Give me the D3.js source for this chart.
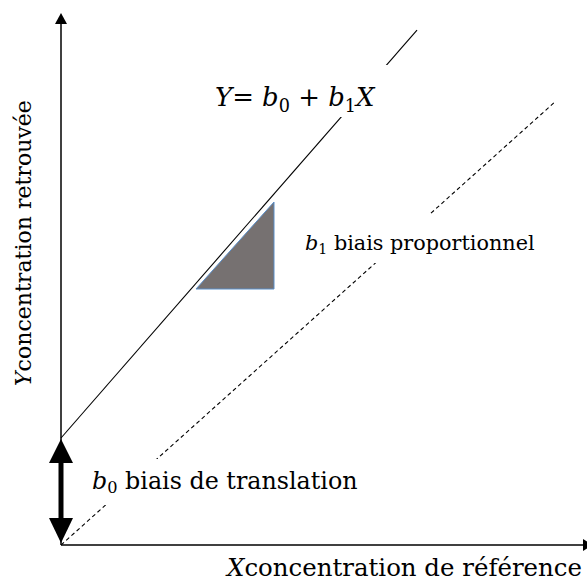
<!DOCTYPE html>
<html>
<head>
<meta charset="utf-8">
<script src="https://cdn.jsdelivr.net/npm/d3@7"></script>
<style>
  html, body { margin: 0; padding: 0; background: #fff; }
  svg { display: block; }
</style>
</head>
<body>
<svg id="chart" width="587" height="584"></svg>
<script>
// ---- data (in abstract concentration units) ----
const axisExtent = [0, 106.4];          // both axes
const regression = [21.4, 1.146];       // [b0 intercept, b1 slope] of Y = b0 + b1 X
const regressionEndX = 71.2;
const identitySlope = [0.897];          // reference (no-bias) line through origin
const identityEndX = 98.8;
const slopeTriangle = [[27, 51.2], [42.6, 68.6], [42.6, 51.2]];

const svg = d3.select("#chart");
const x = d3.scaleLinear().domain([0, 100]).range([61, 561]);
const y = d3.scaleLinear().domain([0, 100]).range([545, 45]);
const serif = "'DejaVu Serif', 'Liberation Serif', serif";

// identity (dashed) line
const line = d3.line().x(d => x(d[0])).y(d => y(d[1]));
svg.append("path")
  .attr("d", line([[0, 0], [identityEndX, identitySlope[0] * identityEndX]]))
  .attr("fill", "none").attr("stroke", "#000").attr("stroke-width", 1.1)
  .attr("stroke-dasharray", "4,3");

// regression (solid) line
svg.append("path")
  .attr("d", line([[0, regression[0]], [regressionEndX, regression[0] + regression[1] * regressionEndX]]))
  .attr("fill", "none").attr("stroke", "#000").attr("stroke-width", 1.1);

// slope triangle
svg.append("path")
  .attr("d", line(slopeTriangle) + "Z")
  .attr("fill", "#767171").attr("stroke", "#5b8fc9").attr("stroke-width", 1);

// axes
const x0 = x(0), y0 = y(0);
svg.append("line").attr("x1", x0).attr("y1", y0).attr("x2", x(axisExtent[1]) - 9).attr("y2", y0)
  .attr("stroke", "#000").attr("stroke-width", 1.5);
svg.append("line").attr("x1", x0).attr("y1", y0).attr("x2", x0).attr("y2", y(axisExtent[1]) + 9)
  .attr("stroke", "#000").attr("stroke-width", 1.5);
const xt = x(axisExtent[1]), yt = y(axisExtent[1]);
svg.append("path").attr("d", `M${xt},${y0} L${xt - 10},${y0 - 6} L${xt - 10},${y0 + 6} Z`).attr("fill", "#000");
svg.append("path").attr("d", `M${x0},${yt} L${x0 - 6},${yt + 11} L${x0 + 6},${yt + 11} Z`).attr("fill", "#000");

// double arrow for b0
const ya = y(regression[0]) + 1, yb = y(0) - 2;
svg.append("line").attr("x1", x0).attr("y1", ya + 20).attr("x2", x0).attr("y2", yb - 20)
  .attr("stroke", "#000").attr("stroke-width", 5);
svg.append("path").attr("d", `M${x0},${ya} L${x0 - 12},${ya + 24} L${x0 + 12},${ya + 24} Z`).attr("fill", "#000");
svg.append("path").attr("d", `M${x0},${yb} L${x0 - 12},${yb - 25} L${x0 + 12},${yb - 25} Z`).attr("fill", "#000");

// label background boxes (hide lines behind text)
function box(x1, y1, x2, y2) {
  svg.append("rect").attr("x", x1).attr("y", y1).attr("width", x2 - x1).attr("height", y2 - y1).attr("fill", "#fff");
}
box(205, 65, 392, 117);
box(300, 214, 548, 263);
box(86, 459, 368, 505);

// fit a text element horizontally to a target width by scaling its font size
function fit(t, target) {
  const w = t.node().getComputedTextLength();
  const fs = parseFloat(t.attr("font-size"));
  t.attr("font-size", fs * target / w);
  t.selectAll("tspan[data-sub]").attr("font-size", fs * target / w * 0.68);
}

// formula
const f = svg.append("text").attr("x", 215).attr("y", 106)
  .attr("font-family", serif).attr("font-size", 26).attr("fill", "#000");
f.append("tspan").attr("font-style", "italic").text("Y");
f.append("tspan").text("=  ");
f.append("tspan").attr("font-style", "italic").text("b");
f.append("tspan").attr("data-sub", 1).attr("font-size", 18).attr("dy", 6).text("0");
f.append("tspan").attr("dy", -6).text(" + ");
f.append("tspan").attr("font-style", "italic").text("b");
f.append("tspan").attr("data-sub", 1).attr("font-size", 18).attr("dy", 6).text("1");
f.append("tspan").attr("font-style", "italic").attr("dy", -6).text("X");
fit(f, 160);

function subLabel(xp, yp, sub, rest, target) {
  const t = svg.append("text").attr("x", xp).attr("y", yp)
    .attr("font-family", serif).attr("font-size", 20).attr("fill", "#000");
  t.append("tspan").attr("font-style", "italic").text("b");
  t.append("tspan").attr("data-sub", 1).attr("font-size", 14).attr("dy", 4).text(sub);
  t.append("tspan").attr("dy", -4).text(" " + rest);
  fit(t, target);
  return t;
}
subLabel(305, 250, "1", "biais proportionnel", 230);
subLabel(92, 489, "0", "biais de translation", 266);

// axis titles
const xl = svg.append("text").attr("x", 227).attr("y", 576)
  .attr("font-family", serif).attr("font-size", 20).attr("fill", "#000");
xl.append("tspan").attr("font-style", "italic").text("X");
xl.append("tspan").text("concentration de référence");
fit(xl, 355);

const yl = svg.append("text").attr("transform", "translate(31,386) rotate(-90)")
  .attr("font-family", serif).attr("font-size", 20).attr("fill", "#000");
yl.append("tspan").attr("font-style", "italic").text("Y");
yl.append("tspan").text("concentration retrouvée");
fit(yl, 286);
</script>
</body>
</html>
